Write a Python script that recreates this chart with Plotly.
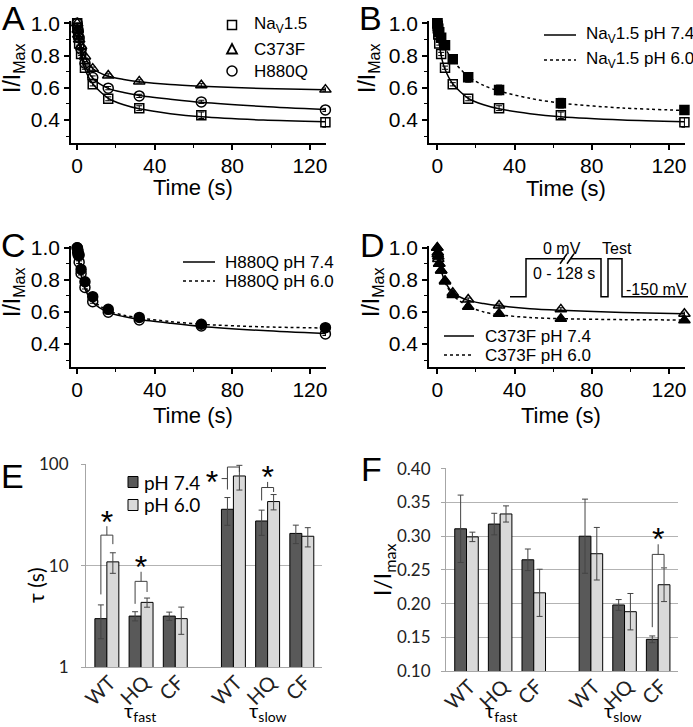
import plotly.graph_objects as go

W, H = 693, 727
def px(x): return x / W
def py(y): return 1 - y / H

# ---------------- Panels A-D : recovery time course ----------------
time_s = [0, 0.25, 0.5, 1, 2, 4, 8, 16, 32, 64, 128]
wt_74 = [1.0, 0.97, 0.93, 0.875, 0.81, 0.725, 0.622, 0.532, 0.474, 0.430, 0.386]
wt_74_err = [0, 0.01, 0.01, 0.01, 0.01, 0.01, 0.01, 0.012, 0.015, 0.02, 0.03]
wt_60 = [1.0, 0.985, 0.967, 0.945, 0.91, 0.864, 0.778, 0.665, 0.587, 0.505, 0.462]
wt_60_err = [0, 0.01, 0.01, 0.01, 0.012, 0.015, 0.02, 0.03, 0.03, 0.03, 0.02]
hq_74 = [1.0, 0.97, 0.954, 0.91, 0.84, 0.753, 0.664, 0.598, 0.55, 0.513, 0.463]
hq_74_err = [0, 0.005, 0.005, 0.008, 0.01, 0.01, 0.01, 0.01, 0.01, 0.01, 0.01]
hq_60 = [1.0, 0.99, 0.975, 0.954, 0.865, 0.788, 0.695, 0.616, 0.566, 0.523, 0.502]
hq_60_err = [0, 0.005, 0.005, 0.008, 0.01, 0.01, 0.01, 0.01, 0.01, 0.01, 0.01]
cf_74 = [1.0, 0.96, 0.93, 0.9, 0.858, 0.795, 0.719, 0.677, 0.64, 0.616, 0.589]
cf_74_err = [0, 0.005, 0.005, 0.008, 0.01, 0.01, 0.01, 0.01, 0.01, 0.01, 0.01]
cf_60 = [1.0, 0.97, 0.945, 0.9, 0.858, 0.79, 0.705, 0.633, 0.589, 0.558, 0.548]
cf_60_err = [0, 0.005, 0.005, 0.008, 0.01, 0.01, 0.01, 0.01, 0.01, 0.01, 0.01]

fit_time = [0, 1, 2, 4, 8, 16, 24, 32, 48, 64, 96, 128]
wt_74_fit = [1.0, 0.88, 0.80, 0.715, 0.625, 0.535, 0.495, 0.47, 0.44, 0.42, 0.40, 0.39]
wt_60_fit = [1.0, 0.95, 0.91, 0.85, 0.77, 0.67, 0.615, 0.58, 0.535, 0.505, 0.475, 0.46]
hq_74_fit = [1.0, 0.90, 0.83, 0.745, 0.66, 0.597, 0.571, 0.553, 0.53, 0.51, 0.484, 0.465]
hq_60_fit = [1.0, 0.92, 0.85, 0.765, 0.675, 0.607, 0.58, 0.563, 0.54, 0.523, 0.507, 0.50]
cf_74_fit = [1.0, 0.92, 0.86, 0.79, 0.72, 0.672, 0.652, 0.638, 0.62, 0.61, 0.596, 0.588]
cf_60_fit = [1.0, 0.92, 0.86, 0.785, 0.705, 0.635, 0.60, 0.582, 0.565, 0.558, 0.552, 0.55]

# ---------------- Panels E-F : fit parameters ----------------
categories = ["WT", "HQ", "CF", "WT", "HQ", "CF"]
tau_74 = [3.0, 3.18, 3.18, 36.0, 27.6, 20.8]
tau_74_err = [1.1, 0.33, 0.3, 11.0, 7.7, 4.3]
tau_60 = [10.9, 4.34, 3.0, 76.7, 42.9, 19.5]
tau_60_err = [2.5, 0.45, 0.9, 21.0, 7.4, 4.2]
amp_74 = [0.311, 0.318, 0.265, 0.300, 0.198, 0.147]
amp_74_err = [0.050, 0.016, 0.016, 0.055, 0.008, 0.005]
amp_60 = [0.299, 0.333, 0.216, 0.274, 0.188, 0.228]
amp_60_err = [0.007, 0.012, 0.035, 0.039, 0.027, 0.025]

# significance brackets: (category index, left leg bottom, top, right leg bottom, centre tick top, star level)
sig_E = [(0, 5.2, 20.0, 16.3, 24.5, 25.0), (1, 4.2, 7.0, 5.5, 8.7, 9.0), (4, 44.0, 59.0, 53.3, 67.0, 70.0)]
sig_E_side = (3, 56.4, 94.0, 84.0, 72.3)   # WT slow: bracket with the tick to the left
sig_F = [(5, 0.165, 0.273, 0.254, 0.288, 0.292)]

pos = [i + (0.7 if i >= 3 else 0) for i in range(len(categories))]
HALF = 0.175

DARK = "#595959"
LIGHT = "#d9d9d9"
FONT_A = "Liberation Sans"
FONT_E = "Lato"

fig = go.Figure()

def line_trace(xa, ya, x, y, dash="solid"):
    fig.add_trace(go.Scatter(x=x, y=y, mode="lines", xaxis=xa, yaxis=ya,
                             line=dict(color="black", width=1.5, dash=dash, shape="spline", smoothing=0.8),
                             showlegend=False, hoverinfo="skip"))

def marker_trace(xa, ya, x, y, err, symbol, size=9):
    fig.add_trace(go.Scatter(x=x, y=y, mode="markers", xaxis=xa, yaxis=ya, cliponaxis=False,
                             marker=dict(symbol=symbol, size=size, color="black", line=dict(color="black", width=1.5)),
                             error_y=dict(type="data", array=err, color="black", thickness=1, width=3),
                             showlegend=False))

# Panel A
line_trace("x", "y", fit_time, wt_74_fit)
line_trace("x", "y", fit_time, hq_74_fit)
line_trace("x", "y", fit_time, cf_74_fit)
marker_trace("x", "y", time_s, wt_74, wt_74_err, "square-open", 9)
marker_trace("x", "y", time_s, cf_74, cf_74_err, "triangle-up-open", 10)
marker_trace("x", "y", time_s, hq_74, hq_74_err, "circle-open", 10)
# Panel B
line_trace("x2", "y2", fit_time, wt_74_fit)
line_trace("x2", "y2", fit_time, wt_60_fit, "dot")
marker_trace("x2", "y2", time_s, wt_74, wt_74_err, "square-open", 9)
marker_trace("x2", "y2", time_s, wt_60, wt_60_err, "square", 9)
# Panel C
line_trace("x3", "y3", fit_time, hq_74_fit)
line_trace("x3", "y3", fit_time, hq_60_fit, "dot")
marker_trace("x3", "y3", time_s, hq_74, hq_74_err, "circle-open", 10)
marker_trace("x3", "y3", time_s, hq_60, hq_60_err, "circle", 10)
# Panel D
line_trace("x4", "y4", fit_time, cf_74_fit)
line_trace("x4", "y4", fit_time, cf_60_fit, "dot")
marker_trace("x4", "y4", time_s, cf_74, cf_74_err, "triangle-up-open", 10)
marker_trace("x4", "y4", time_s, cf_60, cf_60_err, "triangle-up", 10)

# Panels E and F bars
def bars(xa, ya, y74, e74, y60, e60):
    fig.add_trace(go.Bar(x=pos, y=y74, width=2 * HALF, offset=-2 * HALF, xaxis=xa, yaxis=ya,
                         marker=dict(color=DARK, line=dict(color="black", width=1)),
                         error_y=dict(type="data", array=e74, color="#444", thickness=1, width=3),
                         showlegend=False))
    fig.add_trace(go.Bar(x=pos, y=y60, width=2 * HALF, offset=0, xaxis=xa, yaxis=ya,
                         marker=dict(color=LIGHT, line=dict(color="black", width=1)),
                         error_y=dict(type="data", array=e60, color="#444", thickness=1, width=3),
                         showlegend=False))

bars("x5", "y5", tau_74, tau_74_err, tau_60, tau_60_err)
bars("x6", "y6", amp_74, amp_74_err, amp_60, amp_60_err)

def bracket(xa, ya, i, lb, top, rb, tick, star):
    c = pos[i]
    fig.add_trace(go.Scatter(x=[c - HALF, c - HALF, c + HALF, c + HALF, None, c, c],
                             y=[lb, top, top, rb, None, top, tick], mode="lines",
                             xaxis=xa, yaxis=ya, line=dict(color="#404040", width=1),
                             showlegend=False, hoverinfo="skip", cliponaxis=False))
    fig.add_trace(go.Scatter(x=[c], y=[star], mode="text", text=["*"], xaxis=xa, yaxis=ya,
                             textfont=dict(family=FONT_A, size=32, color="black"),
                             showlegend=False, hoverinfo="skip", cliponaxis=False))

for s in sig_E:
    bracket("x5", "y5", *s)
for s in sig_F:
    bracket("x6", "y6", *s)
i, lb, top, rb, tick = sig_E_side
c = pos[i]
fig.add_trace(go.Scatter(x=[c - HALF, c - HALF, c + HALF, c + HALF, None, c - HALF, c - HALF - 0.17],
                         y=[lb, top, top, rb, None, tick, tick], mode="lines",
                         xaxis="x5", yaxis="y5", line=dict(color="#404040", width=1),
                         showlegend=False, hoverinfo="skip", cliponaxis=False))
fig.add_trace(go.Scatter(x=[c - HALF - 0.45], y=[tick * 0.87], mode="text", text=["*"], xaxis="x5", yaxis="y5",
                         textfont=dict(family=FONT_A, size=32, color="black"),
                         showlegend=False, hoverinfo="skip", cliponaxis=False))

# ---------------- axes ----------------
def time_axes(n, xpx, ypx, xr, yr):
    sx = "" if n == 1 else str(n)
    tf = dict(family=FONT_A, size=21, color="black")
    fig.update_layout(**{
        "xaxis" + sx: dict(domain=[px(xpx[0]), px(xpx[1])], range=xr, anchor="y" + sx, automargin=False,
                           showline=True, linecolor="black", linewidth=1.5, ticks="outside", ticklen=5,
                           tickwidth=1.5, tickcolor="black", tick0=0, dtick=40, ticklabelstandoff=-2,
                           minor=dict(dtick=20, ticks="outside", ticklen=3, tickwidth=1.2, tickcolor="black"),
                           showgrid=False, zeroline=False, tickfont=tf, fixedrange=True),
        "yaxis" + sx: dict(domain=[py(ypx[1]), py(ypx[0])], range=yr, anchor="x" + sx, automargin=False,
                           showline=True, linecolor="black", linewidth=1.5, ticks="outside", ticklen=5,
                           tickwidth=1.5, tickcolor="black", tick0=0, dtick=0.2, tickformat=".1f",
                           minor=dict(dtick=0.1, ticks="outside", ticklen=3, tickwidth=1.2, tickcolor="black"),
                           showgrid=False, zeroline=False, tickfont=tf, fixedrange=True),
    })

time_axes(1, (71, 326), (21.4, 143), [-3.2, 128.3], [0.258, 1.012])
time_axes(2, (429, 685), (21.4, 143), [-4.3, 128.3], [0.258, 1.012])
time_axes(3, (71, 326), (245.8, 367), [-3.2, 128.3], [0.257, 1.012])
time_axes(4, (429, 685), (245.8, 367), [-4.3, 128.3], [0.257, 1.012])

def bar_axes(n, xpx, ypx, standoff, yaxis_extra):
    sx = str(n)
    fig.update_layout(**{
        "xaxis" + sx: dict(domain=[px(xpx[0]), px(xpx[1])], range=[-0.61, 6.29], anchor="y" + sx,
                           automargin=False, tickvals=pos, ticktext=categories, tickangle=-45, ticks="",
                           ticklabelstandoff=-5, ticklabelshift=3,
                           showline=True, linecolor="#a6a6a6", linewidth=1, showgrid=False, zeroline=False,
                           tickfont=dict(family=FONT_E, size=20, color="#222"), fixedrange=True),
        "yaxis" + sx: dict(domain=[py(ypx[1]), py(ypx[0])], anchor="x" + sx, automargin=False,
                           showline=True, linecolor="#a6a6a6", linewidth=1, ticks="outside", ticklen=4,
                           tickcolor="#a6a6a6", showgrid=True, gridcolor="#b3b3b3", gridwidth=1,
                           ticklabelstandoff=standoff,
                           zeroline=False, tickfont=dict(family=FONT_E, size=17, color="#222"),
                           fixedrange=True, **yaxis_extra),
    })

bar_axes(5, (86, 322), (464, 667), 9, dict(type="log", range=[0, 2.003], tickvals=[1, 10, 100],
                                            ticktext=["1", "10", "100"]))
bar_axes(6, (446, 678), (468, 671), 7, dict(range=[0.10, 0.4012], tick0=0.10, dtick=0.05, tickformat=".2f"))

# ---------------- annotations & shapes ----------------
ann = []
shapes = []

def text(x, y, s, size, family=FONT_A, angle=0, xanchor="center", color="black"):
    ann.append(dict(x=px(x), y=py(y), xref="paper", yref="paper", text=s, showarrow=False,
                    xanchor=xanchor, yanchor="middle", textangle=angle,
                    font=dict(family=family, size=size, color=color)))

# panel letters
for L, x, y in [("A", 13, 18), ("B", 370, 18), ("C", 13, 245), ("D", 372, 245), ("E", 12, 476), ("F", 371, 469)]:
    text(x, y, L, 34)

# axis titles A-D
for x, y in [(193, 188), (566, 189), (193, 415), (561, 415)]:
    text(x, y, "Time (s)", 22)
for x, y in [(13, 68), (368, 68), (13, 292), (372, 292)]:
    text(x, y, "I/I<sub>Max</sub>", 23, angle=-90)

# legend A
lx = 232
for ly, lab, sym in [(25, "Na<sub>V</sub>1.5", "sq"), (49, "C373F", "tri"), (71, "H880Q", "cir")]:
    if sym == "sq":
        shapes.append(dict(type="rect", xref="paper", yref="paper", x0=px(lx - 4.5), x1=px(lx + 4.5),
                           y0=py(ly + 4.5), y1=py(ly - 4.5), line=dict(color="black", width=1.5)))
    elif sym == "cir":
        shapes.append(dict(type="circle", xref="paper", yref="paper", x0=px(lx - 5), x1=px(lx + 5),
                           y0=py(ly + 5), y1=py(ly - 5), line=dict(color="black", width=1.5)))
    else:
        shapes.append(dict(type="path", xref="paper", yref="paper",
                           path=f"M {px(lx-5)},{py(ly+4.5)} L {px(lx+5)},{py(ly+4.5)} L {px(lx)},{py(ly-5)} Z",
                           line=dict(color="black", width=1.8)))
    text(252, ly, lab, 17, xanchor="left")

# line legends B, C, D
def line_legend(x0, x1, xt, rows):
    for y, lab, dash in rows:
        shapes.append(dict(type="line", xref="paper", yref="paper", x0=px(x0), x1=px(x1), y0=py(y), y1=py(y),
                           line=dict(color="black", width=1.5, dash=dash)))
        text(xt, y, lab, 17, xanchor="left")

line_legend(544, 576, 584, [(35, "Na<sub>V</sub>1.5 pH 7.4", "solid"), (60, "Na<sub>V</sub>1.5 pH 6.0", "dot")])
line_legend(183, 215, 223, [(262, "H880Q pH 7.4", "solid"), (281, "H880Q pH 6.0", "dot")])
line_legend(444, 474, 483, [(336, "C373F pH 7.4", "solid"), (355, "C373F pH 6.0", "dot")])

# voltage protocol inset in D
lo, hi = 296.7, 258.7
def pth(pts):
    return " ".join(("M" if k == 0 else "L") + f" {px(a)},{py(b)}" for k, (a, b) in enumerate(pts))
shapes.append(dict(type="path", xref="paper", yref="paper",
                   path=pth([(510, lo), (526, lo), (526, hi), (565, hi)]), line=dict(color="black", width=1.5)))
shapes.append(dict(type="path", xref="paper", yref="paper",
                   path=pth([(571, hi), (601, hi), (601, lo), (608, lo), (608, hi), (622, hi), (622, lo), (688, lo)]),
                   line=dict(color="black", width=1.5)))
for bx in (563.5, 570.5):
    shapes.append(dict(type="line", xref="paper", yref="paper", x0=px(bx - 3.5), x1=px(bx + 3.5),
                       y0=py(hi + 5), y1=py(hi - 5), line=dict(color="black", width=1.5)))
text(562, 249, "0 mV", 16)
text(564, 273, "0 - 128 s", 16)
text(617, 249, "Test", 16)
text(656, 289, "-150 mV", 16)

# panel E/F labels
text(35, 585, "τ (s)", 21, family=FONT_E, angle=-90)
text(383, 570, "I/I<sub>max</sub>", 23, family=FONT_E, angle=-90)
for x, lab in [(140, "τ<sub>fast</sub>"), (268, "τ<sub>slow</sub>"), (501, "τ<sub>fast</sub>"), (623, "τ<sub>slow</sub>")]:
    text(x, 711, lab, 20, family=FONT_E)

# legend E
for ly, col, lab in [(482, DARK, "pH 7.4"), (505, LIGHT, "pH 6.0")]:
    shapes.append(dict(type="rect", xref="paper", yref="paper", x0=px(128), x1=px(138),
                       y0=py(ly + 5.5), y1=py(ly - 5.5), fillcolor=col, line=dict(color="black", width=1)))
    text(142, ly, lab, 19, family=FONT_E, xanchor="left")

fig.update_layout(width=W, height=H, autosize=False, margin=dict(l=0, r=0, t=0, b=0, autoexpand=False),
                  paper_bgcolor="white", plot_bgcolor="white", barmode="overlay",
                  annotations=ann, shapes=shapes, showlegend=False)

fig.write_html("out.html", config={"displayModeBar": False},
               post_script="document.body.style.margin='0px';document.body.style.overflow='hidden';")
